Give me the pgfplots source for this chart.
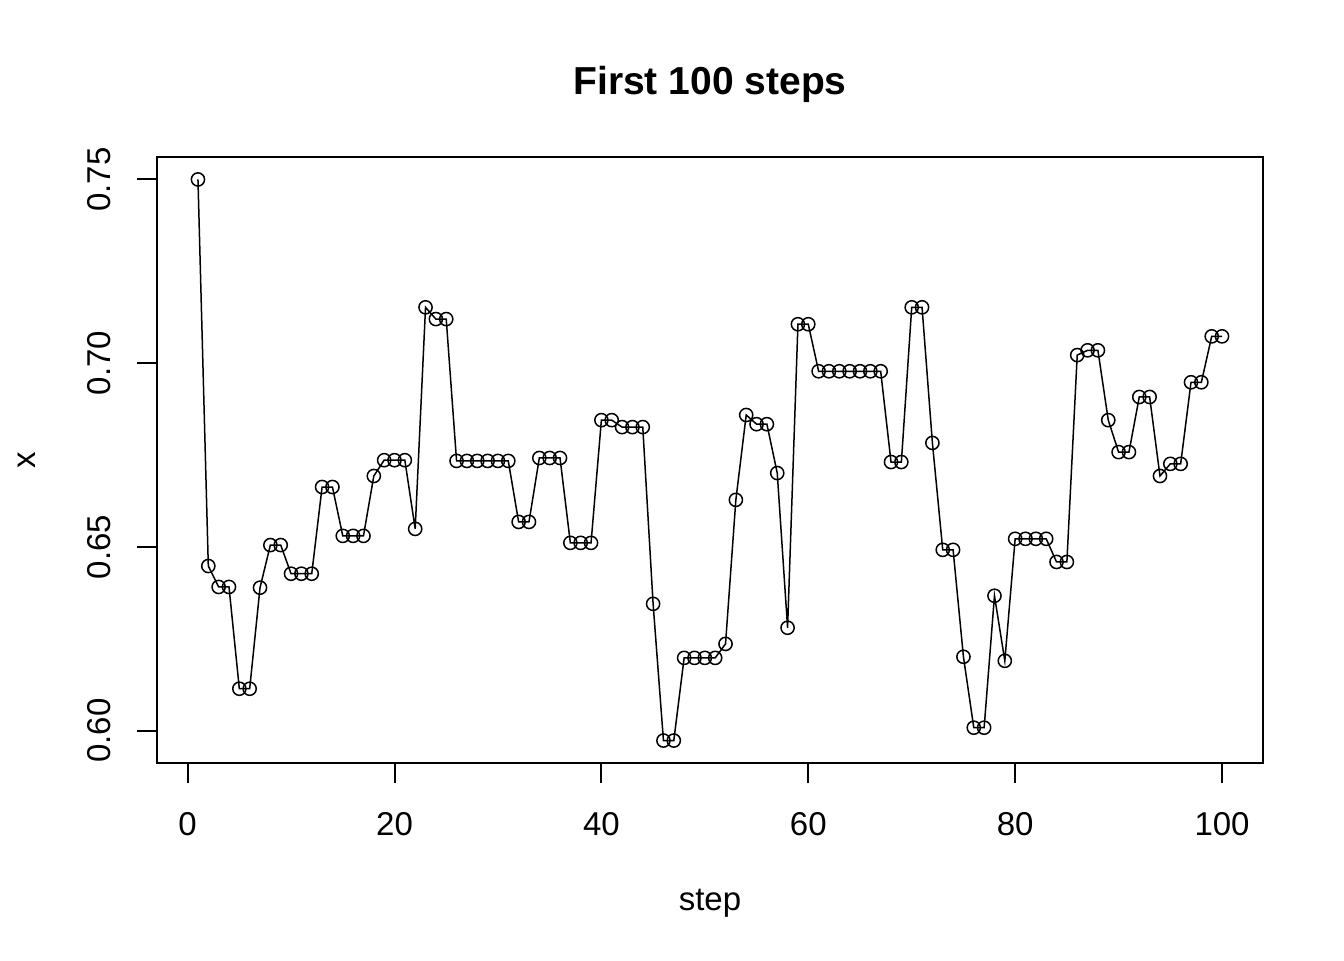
\documentclass[border=0pt]{standalone}
\usepackage{pgfplots}
\pgfplotsset{compat=1.18}
\usepackage{fontspec}
\setmainfont{Liberation Sans}
\pgfplotstableread{
step x
1 0.7500
2 0.6448
3 0.6391
4 0.6391
5 0.6114
6 0.6114
7 0.6389
8 0.6505
9 0.6505
10 0.6427
11 0.6427
12 0.6427
13 0.6663
14 0.6663
15 0.6530
16 0.6530
17 0.6530
18 0.6693
19 0.6736
20 0.6736
21 0.6736
22 0.6549
23 0.7152
24 0.7120
25 0.7120
26 0.6734
27 0.6734
28 0.6734
29 0.6734
30 0.6734
31 0.6734
32 0.6568
33 0.6568
34 0.6742
35 0.6742
36 0.6742
37 0.6511
38 0.6511
39 0.6511
40 0.6845
41 0.6845
42 0.6826
43 0.6826
44 0.6826
45 0.6345
46 0.5973
47 0.5973
48 0.6198
49 0.6198
50 0.6198
51 0.6198
52 0.6236
53 0.6628
54 0.6859
55 0.6834
56 0.6834
57 0.6701
58 0.6280
59 0.7106
60 0.7106
61 0.6978
62 0.6978
63 0.6978
64 0.6978
65 0.6978
66 0.6978
67 0.6978
68 0.6731
69 0.6731
70 0.7152
71 0.7152
72 0.6783
73 0.6492
74 0.6492
75 0.6201
76 0.6008
77 0.6008
78 0.6367
79 0.6190
80 0.6522
81 0.6522
82 0.6522
83 0.6522
84 0.6459
85 0.6459
86 0.7022
87 0.7035
88 0.7035
89 0.6845
90 0.6758
91 0.6758
92 0.6908
93 0.6908
94 0.6693
95 0.6726
96 0.6726
97 0.6948
98 0.6948
99 0.7073
100 0.7073
}\datatable
\begin{document}
\begin{tikzpicture}
\path[use as bounding box] (0,0) rectangle (672pt,480pt);
\begin{axis}[
  at={(78.5pt,98.5pt)}, anchor=south west,
  scale only axis, width=553pt, height=303pt,
  xmin=-2.96, xmax=103.96, ymin=0.59119, ymax=0.75611,
  axis line style={line width=1pt},
  xtick={0,20,40,60,80,100},
  ytick={0.60,0.65,0.70,0.75},
  yticklabels={0.60,0.65,0.70,0.75},
  tick align=outside, tick pos=left,
  major tick length=10pt,
  tick style={line width=1pt, black},
  /pgf/number format/assume math mode=true,
  tick label style={font=\fontsize{16.5}{19}\selectfont},
  xticklabel style={yshift=-11pt},
  yticklabel style={rotate=90, anchor=south, yshift=9.5pt},
  clip=false,
]
\addplot[black, line width=0.75pt, mark=o, mark size=3.3pt, mark options={line width=0.75pt}] table[x=step, y=x] {\datatable};
\end{axis}
\node[font=\bfseries\fontsize{19.5}{23}\selectfont] at (355pt,438pt) {First 100 steps};
\node[font=\fontsize{16.5}{19}\selectfont] at (355pt,28.5pt) {step};
\node[font=\fontsize{16.5}{19}\selectfont, rotate=90] at (13.5pt,250pt) {x};
\end{tikzpicture}
\end{document}
